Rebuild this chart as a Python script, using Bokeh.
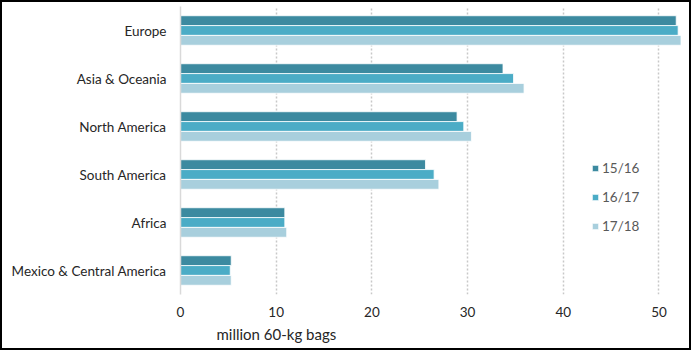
from bokeh.plotting import figure
from bokeh.models import ColumnDataSource, Legend, LegendItem, Title, FixedTicker, Range1d, FactorRange
from bokeh.transform import dodge
from bokeh.embed import file_html
from bokeh.resources import INLINE

regions = ["Europe", "Asia & Oceania", "North America", "South America", "Africa", "Mexico & Central America"]
s1516 = [51.8, 33.7, 28.9, 25.6, 10.9, 5.3]
s1617 = [52.0, 34.8, 29.6, 26.5, 10.9, 5.2]
s1718 = [52.3, 35.9, 30.4, 27.0, 11.1, 5.3]
seasons = ["15/16", "16/17", "17/18"]
colors = ["#3c8aa0", "#4bacc6", "#a8cfdd"]
x_ticks = [0, 10, 20, 30, 40, 50]
axis_title = "million 60-kg bags"

src = ColumnDataSource(dict(region=regions, s1516=s1516, s1617=s1617, s1718=s1718))

p = figure(width=691, height=350, output_backend="svg", toolbar_location=None,
           y_range=FactorRange(factors=list(reversed(regions)), range_padding=0),
           x_range=Range1d(0, 52.77),
           min_border_left=178, min_border_right=8, min_border_top=4, min_border_bottom=58)
p.styles = {"border": "2px solid black"}
p.outline_line_color = None
p.background_fill_color = "white"

bh = 0.205
renderers = []
for col, off, c in zip(["s1516", "s1617", "s1718"], [bh, 0, -bh], colors):
    r = p.hbar(y=dodge("region", off, range=p.y_range), right=col, left=0, height=bh, source=src,
               fill_color=c, line_color="white", line_width=0.8)
    renderers.append(r)

p.ygrid.grid_line_color = None
p.xgrid.ticker = FixedTicker(ticks=[10, 20, 30, 40, 50])
p.xgrid.grid_line_color = "#c8c8c8"
p.xgrid.grid_line_dash = "2 2"
p.xgrid.grid_line_width = 1.5

p.xaxis.ticker = FixedTicker(ticks=x_ticks)
p.xaxis.axis_line_color = None
p.xaxis.major_tick_line_color = None
p.xaxis.minor_tick_line_color = None
p.xaxis.major_label_text_font = "Lato"
p.xaxis.major_label_text_font_size = "13.5px"
p.xaxis.major_label_text_color = "#262626"
p.xaxis.major_label_standoff = 6

p.yaxis.axis_line_color = "#d9d9d9"
p.yaxis.axis_line_width = 1.5
p.yaxis.major_tick_line_color = None
p.yaxis.minor_tick_line_color = None
p.yaxis.major_label_text_font = "Lato"
p.yaxis.major_label_text_font_size = "13.5px"
p.yaxis.major_label_text_color = "#262626"
p.yaxis.major_label_standoff = 8

items = [LegendItem(label=s, renderers=[r]) for s, r in zip(seasons, renderers)]
leg = Legend(items=items, location=(411, 60), padding=0, margin=0, border_line_color=None,
             background_fill_alpha=0, label_text_font="Lato", label_text_font_size="13.5px",
             label_text_color="#595959", glyph_width=8, glyph_height=8, label_height=16,
             spacing=13, label_standoff=3)
p.add_layout(leg)

t = Title(text=axis_title, align="left", offset=36, standoff=6, text_font="Lato",
          text_font_size="15px", text_font_style="normal", text_color="#262626")
p.add_layout(t, "below")

open("out.html", "w").write(file_html(p, INLINE))
